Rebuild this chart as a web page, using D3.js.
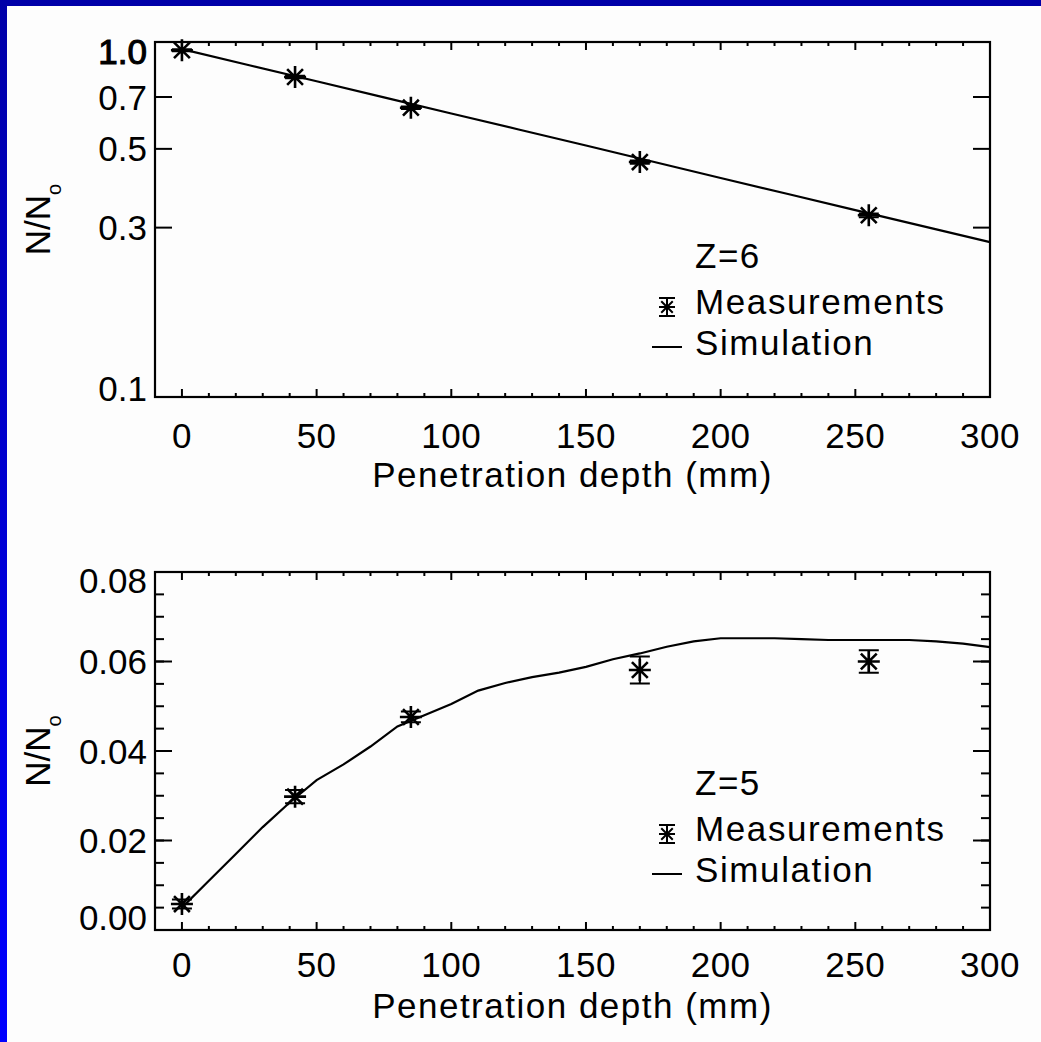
<!DOCTYPE html>
<html><head><meta charset="utf-8">
<script src="https://cdn.jsdelivr.net/npm/d3@7"></script>
<style>
body{margin:0;background:#fff}
svg{display:block}
text{font-family:"Liberation Sans",Arial,Helvetica,sans-serif;fill:#000}
</style>
</head><body>
<script>
// ---- data ----
const depthMeas = [0, 42, 85, 170, 255];
const z6Meas = [0.948, 0.797, 0.653, 0.459, 0.325];
const z6Err = [0.006, 0.006, 0.005, 0.005, 0.004];
const z5Meas = [0.0058, 0.0298, 0.0476, 0.0581, 0.0600];
const z5Err = [0.001, 0.0015, 0.0012, 0.003, 0.0025];

const simDepthZ6 = [0, 25, 50, 75, 100, 125, 150, 175, 200, 225, 250, 275, 300];
const z6Sim = [0.955, 0.860, 0.775, 0.698, 0.629, 0.567, 0.511, 0.460, 0.414, 0.373, 0.336, 0.303, 0.273];

const simDepthZ5 = [0,10,20,30,40,50,60,70,80,90,100,110,120,130,140,150,160,170,180,190,200,210,220,230,240,250,260,270,280,290,300];
const z5Sim = [0.005,0.011,0.017,0.023,0.0285,0.0335,0.037,0.041,0.0455,0.048,0.0505,0.0535,0.0552,0.0565,0.0575,0.0588,0.0605,0.0618,0.0633,0.0645,0.0652,0.0652,0.0652,0.0650,0.0648,0.0648,0.0648,0.0648,0.0645,0.0640,0.0632];

const xMajorTicks = [0, 50, 100, 150, 200, 250, 300];
const xTickLabels = ["0", "50", "100", "150", "200", "250", "300"];
const z6YTicks = [1.0, 0.7, 0.5, 0.3, 0.1];
const z6YTickLabels = ["1.0", "0.7", "0.5", "0.3", "0.1"];
const z5YTicks = [0, 0.02, 0.04, 0.06, 0.08];
const z5YTickLabels = ["0.00", "0.02", "0.04", "0.06", "0.08"];
const xTitle = "Penetration depth (mm)";
const legendItems = ["Measurements", "Simulation"];

// ---- drawing ----
const W = 1041, H = 1042;
const svg = d3.select("body").append("svg").attr("width", W).attr("height", H);
const defs = svg.append("defs");
const grad = defs.append("linearGradient").attr("id", "bg").attr("x1", 0).attr("y1", 0).attr("x2", 0).attr("y2", 1);
grad.append("stop").attr("offset", "0").attr("stop-color", "#0000a8");
grad.append("stop").attr("offset", "1").attr("stop-color", "#0000ff");
svg.append("rect").attr("width", W).attr("height", H).attr("fill", "url(#bg)");
svg.append("rect").attr("x", 7).attr("y", 6).attr("width", W - 7).attr("height", H - 6).attr("fill", "#fdfdfd");

function starPath(r) {
  const d = r * 0.72;
  return `M0,${-r}L0,${r}M${-r},0L${r},0M${-d},${-d}L${d},${d}M${-d},${d}L${d},${-d}`;
}

function panel(cfg) {
  const L = 155, R = 990;
  const x = d3.scaleLinear().domain([-10, 300]).range([L, R]);
  const y = cfg.y;
  const [yB, yT] = y.range();
  const g = svg.append("g");

  // x ticks (bottom and top)
  const minor = d3.range(0, 301, 10);
  minor.forEach(v => {
    const major = v % 50 === 0;
    const len = major ? 8 : 4;
    g.append("line").attr("x1", x(v)).attr("x2", x(v)).attr("y1", yB).attr("y2", yB - len)
      .attr("stroke", "#000").attr("stroke-width", 2);
    g.append("line").attr("x1", x(v)).attr("x2", x(v)).attr("y1", yT).attr("y2", yT + len)
      .attr("stroke", "#000").attr("stroke-width", 2);
  });
  xMajorTicks.forEach((v, i) => {
    g.append("text").attr("x", x(v)).attr("y", yB + cfg.xLabelOff).attr("text-anchor", "middle")
      .attr("font-size", 35).style("letter-spacing", "0.5px").text(xTickLabels[i]);
  });
  g.append("text").attr("x", (L + R) / 2).attr("y", yB + cfg.xTitleOff).attr("text-anchor", "middle")
    .attr("font-size", 35).style("letter-spacing", "1.5px").text(xTitle);

  // y minor ticks
  (cfg.yMinor || []).forEach(v => {
    [[L, 1], [R, -1]].forEach(([xx, s]) => {
      g.append("line").attr("x1", xx).attr("x2", xx + s * 9).attr("y1", y(v)).attr("y2", y(v))
        .attr("stroke", "#000").attr("stroke-width", 2);
    });
  });
  cfg.yTicks.forEach((v, i) => {
    [[L, 1], [R, -1]].forEach(([xx, s]) => {
      g.append("line").attr("x1", xx).attr("x2", xx + s * 17).attr("y1", y(v)).attr("y2", y(v))
        .attr("stroke", "#000").attr("stroke-width", 2);
    });
    const t = g.append("text").attr("x", 147).attr("y", y(v) + cfg.yLabelShift[i]).attr("dy", "0.36em")
      .attr("text-anchor", "end").attr("font-size", 35).text(cfg.yTickLabels[i]);
    if (cfg.boldFirst && i === 0) t.attr("stroke", "#000").attr("stroke-width", 1.1);
  });

  // y title
  const yt = g.append("text").attr("transform", `translate(50,${(yB + yT) / 2}) rotate(-90)`)
    .attr("text-anchor", "middle").attr("font-size", 35);
  yt.append("tspan").text("N/N");
  yt.append("tspan").attr("font-size", 20).attr("dy", 11).text("o");

  // simulation line
  const line = d3.line().x(d => x(d[0])).y(d => y(d[1]));
  g.append("path").datum(cfg.simX.map((v, i) => [v, cfg.simY[i]]))
    .attr("d", line).attr("fill", "none").attr("stroke", "#000").attr("stroke-width", 2.2);

  // measurements with error bars
  depthMeas.forEach((d, i) => {
    const cx = x(d), cy = y(cfg.meas[i]);
    const y1 = y(cfg.meas[i] + cfg.err[i]), y2 = y(cfg.meas[i] - cfg.err[i]);
    g.append("path").attr("d", `M${cx},${y1}L${cx},${y2}M${cx - 10},${y1}L${cx + 10},${y1}M${cx - 10},${y2}L${cx + 10},${y2}`)
      .attr("stroke", "#000").attr("stroke-width", 2).attr("fill", "none");
    g.append("path").attr("transform", `translate(${cx},${cy})`).attr("d", starPath(11))
      .attr("stroke", "#000").attr("stroke-width", 2.6).attr("fill", "none");
  });

  // frame
  g.append("rect").attr("x", L).attr("y", yT).attr("width", R - L).attr("height", yB - yT)
    .attr("fill", "none").attr("stroke", "#000").attr("stroke-width", 2.2);

  // legend
  const lg = cfg.legend;
  g.append("text").attr("x", 695).attr("y", lg.y0).attr("font-size", 35).style("letter-spacing", "1.5px").text(cfg.zLabel);
  g.append("text").attr("x", 695).attr("y", lg.y0 + 46).attr("font-size", 35).style("letter-spacing", "1.6px").text(legendItems[0]);
  g.append("text").attr("x", 695).attr("y", lg.y0 + 87).attr("font-size", 35).style("letter-spacing", "1.6px").text(legendItems[1]);
  const sx = 667, sy = lg.y0 + 39;
  g.append("path").attr("d", `M${sx},${sy - 9}L${sx},${sy + 9}M${sx - 8},${sy - 9}L${sx + 8},${sy - 9}M${sx - 8},${sy + 9}L${sx + 8},${sy + 9}`)
    .attr("stroke", "#000").attr("stroke-width", 2).attr("fill", "none");
  g.append("path").attr("transform", `translate(${sx},${sy})`).attr("d", starPath(8))
    .attr("stroke", "#000").attr("stroke-width", 2).attr("fill", "none");
  g.append("line").attr("x1", 652).attr("x2", 682).attr("y1", lg.y0 + 79).attr("y2", lg.y0 + 79)
    .attr("stroke", "#000").attr("stroke-width", 2);
}

panel({
  y: d3.scaleLog().domain([0.1, 1.0]).range([397, 42]),
  yTicks: z6YTicks, yTickLabels: z6YTickLabels, yLabelShift: [9, 0, 0, 0, -9], boldFirst: true,
  meas: z6Meas, err: z6Err, simX: simDepthZ6, simY: z6Sim,
  xLabelOff: 51, xTitleOff: 90, zLabel: "Z=6", legend: { y0: 268 }
});
panel({
  y: d3.scaleLinear().domain([0, 0.08]).range([930, 572]),
  yTicks: z5YTicks, yTickLabels: z5YTickLabels, yLabelShift: [-13, 0, 0, 0, 8],
  yMinor: d3.range(0.005, 0.08, 0.005),
  meas: z5Meas, err: z5Err, simX: simDepthZ5, simY: z5Sim,
  xLabelOff: 47, xTitleOff: 88, zLabel: "Z=5", legend: { y0: 795 }
});
</script>
</body></html>
